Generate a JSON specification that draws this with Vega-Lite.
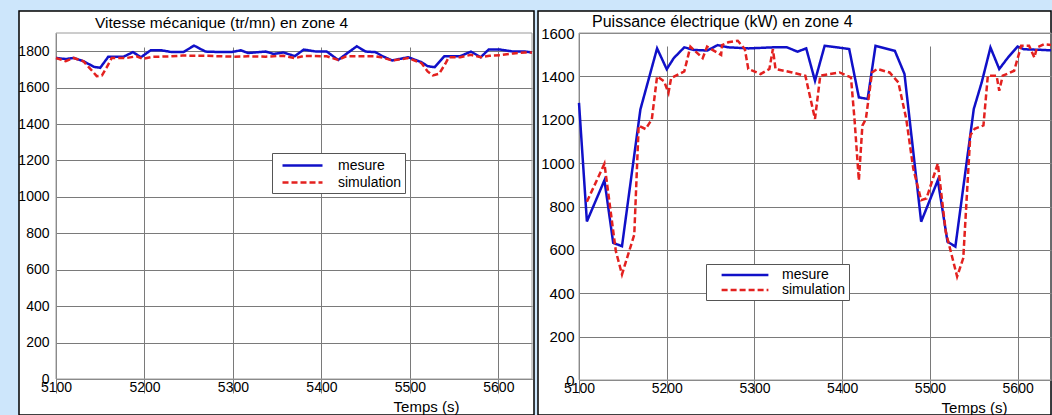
{
  "$schema": "https://vega.github.io/schema/vega-lite/v6.json",
  "background": "#cde6fb",
  "padding": {"left": 17, "top": 10, "right": 0, "bottom": 0},
  "spacing": -1,
  "datasets": {
    "vitesse": [
      {"t": 5100, "v": 1763, "serie": "mesure"}, {"t": 5111, "v": 1757, "serie": "mesure"}, {"t": 5120, "v": 1763, "serie": "mesure"}, {"t": 5131, "v": 1745, "serie": "mesure"}, {"t": 5143, "v": 1714, "serie": "mesure"}, {"t": 5150, "v": 1709, "serie": "mesure"}, {"t": 5159, "v": 1769, "serie": "mesure"}, {"t": 5176, "v": 1769, "serie": "mesure"}, {"t": 5187, "v": 1795, "serie": "mesure"}, {"t": 5196, "v": 1767, "serie": "mesure"}, {"t": 5207, "v": 1805, "serie": "mesure"}, {"t": 5219, "v": 1805, "serie": "mesure"}, {"t": 5231, "v": 1795, "serie": "mesure"}, {"t": 5244, "v": 1795, "serie": "mesure"}, {"t": 5256, "v": 1831, "serie": "mesure"}, {"t": 5269, "v": 1798, "serie": "mesure"}, {"t": 5287, "v": 1795, "serie": "mesure"}, {"t": 5298, "v": 1795, "serie": "mesure"}, {"t": 5309, "v": 1805, "serie": "mesure"}, {"t": 5317, "v": 1790, "serie": "mesure"}, {"t": 5337, "v": 1798, "serie": "mesure"}, {"t": 5346, "v": 1785, "serie": "mesure"}, {"t": 5357, "v": 1793, "serie": "mesure"}, {"t": 5370, "v": 1773, "serie": "mesure"}, {"t": 5380, "v": 1809, "serie": "mesure"}, {"t": 5394, "v": 1798, "serie": "mesure"}, {"t": 5406, "v": 1798, "serie": "mesure"}, {"t": 5419, "v": 1752, "serie": "mesure"}, {"t": 5428, "v": 1785, "serie": "mesure"}, {"t": 5440, "v": 1827, "serie": "mesure"}, {"t": 5450, "v": 1798, "serie": "mesure"}, {"t": 5461, "v": 1795, "serie": "mesure"}, {"t": 5469, "v": 1773, "serie": "mesure"}, {"t": 5480, "v": 1749, "serie": "mesure"}, {"t": 5498, "v": 1767, "serie": "mesure"}, {"t": 5513, "v": 1740, "serie": "mesure"}, {"t": 5520, "v": 1718, "serie": "mesure"}, {"t": 5528, "v": 1712, "serie": "mesure"}, {"t": 5539, "v": 1773, "serie": "mesure"}, {"t": 5557, "v": 1773, "serie": "mesure"}, {"t": 5569, "v": 1798, "serie": "mesure"}, {"t": 5580, "v": 1767, "serie": "mesure"}, {"t": 5589, "v": 1809, "serie": "mesure"}, {"t": 5602, "v": 1809, "serie": "mesure"}, {"t": 5617, "v": 1798, "serie": "mesure"}, {"t": 5630, "v": 1798, "serie": "mesure"}, {"t": 5638, "v": 1793, "serie": "mesure"},
      {"t": 5100, "v": 1763, "serie": "simulation"}, {"t": 5111, "v": 1745, "serie": "simulation"}, {"t": 5120, "v": 1763, "serie": "simulation"}, {"t": 5131, "v": 1745, "serie": "simulation"}, {"t": 5141, "v": 1691, "serie": "simulation"}, {"t": 5146, "v": 1663, "serie": "simulation"}, {"t": 5152, "v": 1667, "serie": "simulation"}, {"t": 5157, "v": 1709, "serie": "simulation"}, {"t": 5163, "v": 1763, "serie": "simulation"}, {"t": 5180, "v": 1763, "serie": "simulation"}, {"t": 5191, "v": 1772, "serie": "simulation"}, {"t": 5198, "v": 1758, "serie": "simulation"}, {"t": 5209, "v": 1769, "serie": "simulation"}, {"t": 5230, "v": 1772, "serie": "simulation"}, {"t": 5243, "v": 1776, "serie": "simulation"}, {"t": 5269, "v": 1775, "serie": "simulation"}, {"t": 5287, "v": 1772, "serie": "simulation"}, {"t": 5300, "v": 1770, "serie": "simulation"}, {"t": 5317, "v": 1772, "serie": "simulation"}, {"t": 5337, "v": 1770, "serie": "simulation"}, {"t": 5357, "v": 1775, "serie": "simulation"}, {"t": 5370, "v": 1762, "serie": "simulation"}, {"t": 5380, "v": 1774, "serie": "simulation"}, {"t": 5406, "v": 1772, "serie": "simulation"}, {"t": 5419, "v": 1752, "serie": "simulation"}, {"t": 5428, "v": 1772, "serie": "simulation"}, {"t": 5461, "v": 1772, "serie": "simulation"}, {"t": 5469, "v": 1765, "serie": "simulation"}, {"t": 5480, "v": 1749, "serie": "simulation"}, {"t": 5498, "v": 1762, "serie": "simulation"}, {"t": 5513, "v": 1735, "serie": "simulation"}, {"t": 5520, "v": 1689, "serie": "simulation"}, {"t": 5526, "v": 1667, "serie": "simulation"}, {"t": 5533, "v": 1676, "serie": "simulation"}, {"t": 5540, "v": 1731, "serie": "simulation"}, {"t": 5544, "v": 1767, "serie": "simulation"}, {"t": 5557, "v": 1767, "serie": "simulation"}, {"t": 5569, "v": 1780, "serie": "simulation"}, {"t": 5580, "v": 1767, "serie": "simulation"}, {"t": 5590, "v": 1775, "serie": "simulation"}, {"t": 5602, "v": 1778, "serie": "simulation"}, {"t": 5617, "v": 1788, "serie": "simulation"}, {"t": 5630, "v": 1793, "serie": "simulation"}, {"t": 5638, "v": 1793, "serie": "simulation"}
    ],
    "puissance": [
      {"t": 5100, "v": 1278, "serie": "mesure"}, {"t": 5109, "v": 731, "serie": "mesure"}, {"t": 5129, "v": 921, "serie": "mesure"}, {"t": 5139, "v": 632, "serie": "mesure"}, {"t": 5149, "v": 617, "serie": "mesure"}, {"t": 5170, "v": 1248, "serie": "mesure"}, {"t": 5189, "v": 1529, "serie": "mesure"}, {"t": 5200, "v": 1433, "serie": "mesure"}, {"t": 5208, "v": 1484, "serie": "mesure"}, {"t": 5220, "v": 1534, "serie": "mesure"}, {"t": 5231, "v": 1522, "serie": "mesure"}, {"t": 5246, "v": 1519, "serie": "mesure"}, {"t": 5258, "v": 1544, "serie": "mesure"}, {"t": 5270, "v": 1534, "serie": "mesure"}, {"t": 5293, "v": 1529, "serie": "mesure"}, {"t": 5322, "v": 1534, "serie": "mesure"}, {"t": 5337, "v": 1534, "serie": "mesure"}, {"t": 5349, "v": 1514, "serie": "mesure"}, {"t": 5359, "v": 1529, "serie": "mesure"}, {"t": 5369, "v": 1380, "serie": "mesure"}, {"t": 5380, "v": 1541, "serie": "mesure"}, {"t": 5403, "v": 1529, "serie": "mesure"}, {"t": 5408, "v": 1526, "serie": "mesure"}, {"t": 5419, "v": 1303, "serie": "mesure"}, {"t": 5429, "v": 1296, "serie": "mesure"}, {"t": 5438, "v": 1541, "serie": "mesure"}, {"t": 5460, "v": 1518, "serie": "mesure"}, {"t": 5471, "v": 1411, "serie": "mesure"}, {"t": 5490, "v": 730, "serie": "mesure"}, {"t": 5509, "v": 921, "serie": "mesure"}, {"t": 5520, "v": 638, "serie": "mesure"}, {"t": 5529, "v": 615, "serie": "mesure"}, {"t": 5550, "v": 1250, "serie": "mesure"}, {"t": 5559, "v": 1372, "serie": "mesure"}, {"t": 5569, "v": 1533, "serie": "mesure"}, {"t": 5579, "v": 1434, "serie": "mesure"}, {"t": 5589, "v": 1487, "serie": "mesure"}, {"t": 5600, "v": 1538, "serie": "mesure"}, {"t": 5607, "v": 1525, "serie": "mesure"}, {"t": 5628, "v": 1522, "serie": "mesure"}, {"t": 5638, "v": 1520, "serie": "mesure"},
      {"t": 5109, "v": 822, "serie": "simulation"}, {"t": 5129, "v": 997, "serie": "simulation"}, {"t": 5142, "v": 594, "serie": "simulation"}, {"t": 5149, "v": 487, "serie": "simulation"}, {"t": 5163, "v": 670, "serie": "simulation"}, {"t": 5168, "v": 1172, "serie": "simulation"}, {"t": 5176, "v": 1157, "serie": "simulation"}, {"t": 5183, "v": 1202, "serie": "simulation"}, {"t": 5189, "v": 1400, "serie": "simulation"}, {"t": 5197, "v": 1377, "serie": "simulation"}, {"t": 5202, "v": 1324, "serie": "simulation"}, {"t": 5205, "v": 1392, "serie": "simulation"}, {"t": 5220, "v": 1423, "serie": "simulation"}, {"t": 5227, "v": 1537, "serie": "simulation"}, {"t": 5241, "v": 1484, "serie": "simulation"}, {"t": 5246, "v": 1537, "serie": "simulation"}, {"t": 5262, "v": 1499, "serie": "simulation"}, {"t": 5263, "v": 1544, "serie": "simulation"}, {"t": 5270, "v": 1557, "serie": "simulation"}, {"t": 5281, "v": 1564, "serie": "simulation"}, {"t": 5289, "v": 1526, "serie": "simulation"}, {"t": 5293, "v": 1434, "serie": "simulation"}, {"t": 5307, "v": 1411, "serie": "simulation"}, {"t": 5317, "v": 1434, "serie": "simulation"}, {"t": 5321, "v": 1526, "serie": "simulation"}, {"t": 5324, "v": 1434, "serie": "simulation"}, {"t": 5343, "v": 1418, "serie": "simulation"}, {"t": 5358, "v": 1403, "serie": "simulation"}, {"t": 5369, "v": 1204, "serie": "simulation"}, {"t": 5375, "v": 1403, "serie": "simulation"}, {"t": 5397, "v": 1418, "serie": "simulation"}, {"t": 5410, "v": 1395, "serie": "simulation"}, {"t": 5414, "v": 1204, "serie": "simulation"}, {"t": 5419, "v": 920, "serie": "simulation"}, {"t": 5423, "v": 1173, "serie": "simulation"}, {"t": 5427, "v": 1204, "serie": "simulation"}, {"t": 5434, "v": 1418, "serie": "simulation"}, {"t": 5440, "v": 1434, "serie": "simulation"}, {"t": 5454, "v": 1418, "serie": "simulation"}, {"t": 5464, "v": 1372, "serie": "simulation"}, {"t": 5473, "v": 1204, "serie": "simulation"}, {"t": 5481, "v": 975, "serie": "simulation"}, {"t": 5490, "v": 829, "serie": "simulation"}, {"t": 5496, "v": 837, "serie": "simulation"}, {"t": 5509, "v": 998, "serie": "simulation"}, {"t": 5518, "v": 684, "serie": "simulation"}, {"t": 5531, "v": 477, "serie": "simulation"}, {"t": 5538, "v": 562, "serie": "simulation"}, {"t": 5546, "v": 1128, "serie": "simulation"}, {"t": 5551, "v": 1158, "serie": "simulation"}, {"t": 5561, "v": 1174, "serie": "simulation"}, {"t": 5566, "v": 1403, "serie": "simulation"}, {"t": 5576, "v": 1403, "serie": "simulation"}, {"t": 5579, "v": 1334, "serie": "simulation"}, {"t": 5583, "v": 1403, "serie": "simulation"}, {"t": 5596, "v": 1426, "serie": "simulation"}, {"t": 5604, "v": 1541, "serie": "simulation"}, {"t": 5613, "v": 1541, "serie": "simulation"}, {"t": 5619, "v": 1487, "serie": "simulation"}, {"t": 5622, "v": 1533, "serie": "simulation"}, {"t": 5630, "v": 1548, "serie": "simulation"}, {"t": 5638, "v": 1545, "serie": "simulation"}
    ]
  },
  "config": {
    "font": "Liberation Sans",
    "view": {"fill": "white", "stroke": "black", "strokeWidth": 1.5},
    "axis": {
      "grid": true, "gridColor": "#7a7a7a", "gridOpacity": 1, "gridWidth": 1,
      "domainColor": "#7a7a7a", "domainWidth": 1, "ticks": false,
      "labelColor": "black", "labelFont": "Liberation Sans", "labelOverlap": false, "labelFlush": false,
      "titleFont": "Liberation Sans", "titleFontWeight": "normal", "titleFontSize": 15, "titleColor": "black"
    },
    "legend": {
      "strokeColor": "#555555", "fillColor": "white", "padding": 3, "cornerRadius": 0,
      "symbolStrokeWidth": 2.5,
      "labelFontSize": 14, "labelFont": "Liberation Sans", "labelColor": "black", "rowPadding": -6
    },
    "title": {"font": "Liberation Sans", "fontWeight": "normal", "color": "black", "anchor": "start", "frame": "group", "baseline": "middle"}
  },
  "resolve": {"scale": {"color": "independent", "strokeDash": "independent"}, "legend": {"color": "independent", "strokeDash": "independent"}},
  "hconcat": [
    {
      "width": 515, "height": 404,
      "title": {"text": "Vitesse mécanique (tr/mn) en zone 4", "dx": 76, "offset": -20, "fontSize": 15.5},
      "layer": [
        {
          "data": {"values": [{}]},
          "mark": {"type": "rect", "fill": null, "stroke": "#9a9a9a", "strokeWidth": 1},
          "encoding": {
            "x": {"datum": 5100, "type": "quantitative"}, "x2": {"datum": 5638},
            "y": {"datum": 0, "type": "quantitative"}, "y2": {"datum": 1900}
          }
        },
        {
          "data": {"name": "vitesse"},
          "mark": {"type": "line", "strokeWidth": 2.5},
          "encoding": {
            "x": {"field": "t", "type": "quantitative",
              "scale": {"domain": [5100, 5638], "range": [37, 513], "nice": false, "zero": false},
              "axis": {"title": "Temps (s)", "values": [5100, 5200, 5300, 5400, 5500, 5600], "format": "d", "offset": -36, "labelPadding": 1, "labelFontSize": 14, "titleX": 407, "titleY": 27, "titleAlign": "center", "titleBaseline": "middle", "titleAnchor": null}},
            "y": {"field": "v", "type": "quantitative",
              "scale": {"domain": [0, 1900], "range": [368, 22], "nice": false},
              "axis": {"title": null, "values": [0, 200, 400, 600, 800, 1000, 1200, 1400, 1600, 1800], "format": "d", "offset": -37, "labelPadding": 7, "labelFontSize": 14}},
            "color": {"field": "serie", "type": "nominal",
              "scale": {"domain": ["mesure", "simulation"], "range": ["#1010c8", "#e3211f"]},
              "legend": {"title": null, "orient": "none", "legendX": 253, "legendY": 142, "symbolType": "M-2.5,0H2.5", "symbolSize": 256, "symbolOffset": 18, "labelOffset": 26}},
            "strokeDash": {"field": "serie", "type": "nominal",
              "scale": {"domain": ["mesure", "simulation"], "range": [[1, 0], [6, 3]]},
              "legend": {"title": null, "orient": "none", "legendX": 253, "legendY": 142, "symbolType": "M-2.5,0H2.5", "symbolSize": 256, "symbolOffset": 18, "labelOffset": 26}}
          }
        }
      ]
    },
    {
      "width": 513, "height": 404,
      "title": {"text": "Puissance électrique (kW) en zone 4", "dx": 54, "offset": -19, "fontSize": 16},
      "layer": [
        {
          "data": {"values": [{}]},
          "mark": {"type": "rect", "fill": null, "stroke": "#9a9a9a", "strokeWidth": 1},
          "encoding": {
            "x": {"datum": 5100, "type": "quantitative"}, "x2": {"datum": 5638},
            "y": {"datum": 0, "type": "quantitative"}, "y2": {"datum": 1600}
          }
        },
        {
          "data": {"name": "puissance"},
          "mark": {"type": "line", "strokeWidth": 2.5},
          "encoding": {
            "x": {"field": "t", "type": "quantitative",
              "scale": {"domain": [5100, 5638], "range": [41, 513], "nice": false, "zero": false},
              "axis": {"title": "Temps (s)", "values": [5100, 5200, 5300, 5400, 5500, 5600], "format": "d", "offset": -35, "labelPadding": 1, "labelFontSize": 14, "titleX": 436, "titleY": 27, "titleAlign": "center", "titleBaseline": "middle", "titleAnchor": null}},
            "y": {"field": "v", "type": "quantitative",
              "scale": {"domain": [0, 1600], "range": [369, 22], "nice": false},
              "axis": {"title": null, "values": [0, 200, 400, 600, 800, 1000, 1200, 1400, 1600], "format": "d", "offset": -41, "labelPadding": 5, "labelFontSize": 15}},
            "color": {"field": "serie", "type": "nominal",
              "scale": {"domain": ["mesure", "simulation"], "range": ["#1010c8", "#e3211f"]},
              "legend": {"title": null, "orient": "none", "legendX": 168, "legendY": 253, "symbolType": "M-3.6,0H3.6", "symbolSize": 169, "symbolOffset": 28, "labelOffset": 29}},
            "strokeDash": {"field": "serie", "type": "nominal",
              "scale": {"domain": ["mesure", "simulation"], "range": [[1, 0], [6, 3]]},
              "legend": {"title": null, "orient": "none", "legendX": 168, "legendY": 253, "symbolType": "M-3.6,0H3.6", "symbolSize": 169, "symbolOffset": 28, "labelOffset": 29}}
          }
        }
      ]
    }
  ]
}
